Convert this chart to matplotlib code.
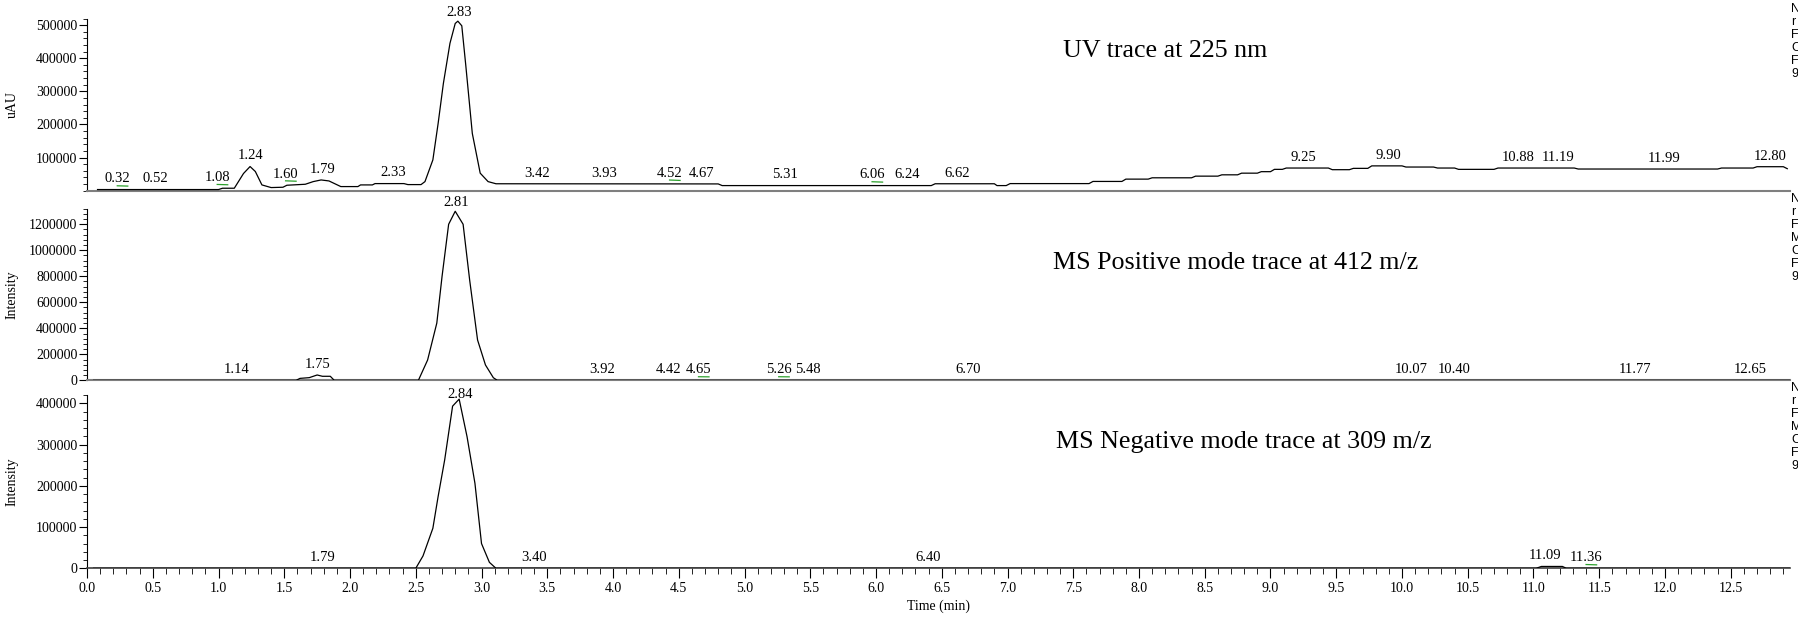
import numpy as np
import matplotlib
matplotlib.use('Agg')
import matplotlib.pyplot as plt
import matplotlib.ticker as ticker
from matplotlib.transforms import offset_copy

plt.rcParams['font.family'] = 'Liberation Serif'

# UV trace at 225 nm (time in min, intensity in uAU)
uv_t = [0.08, 1.00, 1.03, 1.12, 1.19, 1.24, 1.28, 1.33, 1.40, 1.49, 1.52, 1.66,
        1.72, 1.78, 1.84, 1.93, 2.06, 2.08, 2.17, 2.19, 2.41, 2.44, 2.54, 2.57,
        2.63, 2.67, 2.71, 2.76, 2.80, 2.82, 2.85, 2.88, 2.93, 2.99, 3.05, 3.11,
        4.80, 4.83, 6.42, 6.45, 6.90, 6.92, 6.99, 7.02, 7.62, 7.65, 7.87, 7.90,
        8.07, 8.10, 8.40, 8.43, 8.60, 8.63, 8.75, 8.78, 8.90, 8.93, 9.00, 9.03,
        9.09, 9.12, 9.44, 9.47, 9.60, 9.63, 9.74, 9.77, 10.00, 10.03, 10.24, 10.27,
        10.40, 10.43, 10.70, 10.73, 11.31, 11.34, 12.40, 12.43, 12.67, 12.70,
        12.90, 12.93]
uv_y = [3500, 3500, 7500, 7500, 52000, 73000, 58000, 17500, 9500, 10500, 16500, 19500,
        27500, 32500, 29500, 12500, 12500, 17500, 17500, 21500, 21500, 18500, 18500, 27500,
        93000, 203000, 324000, 445000, 505000, 512000, 498000, 380000, 173000, 53000, 27500, 21000,
        20500, 15500, 15500, 21000, 21000, 15500, 15500, 21500, 21500, 28000, 28000, 35000,
        35000, 39000, 39000, 44000, 44000, 48000, 48000, 53000, 53000, 57500, 57500, 64500,
        64500, 68500, 68500, 63500, 63500, 67500, 67500, 75000, 75000, 71500, 71500, 68500,
        68500, 64500, 64500, 68500, 68500, 65500, 65500, 68500, 68500, 72500,
        72500, 66500]

# MS positive mode trace at 412 m/z
pos_t = [0.05, 1.59, 1.62, 1.69, 1.75, 1.79, 1.85, 1.88, 2.52, 2.59, 2.66, 2.70,
         2.75, 2.80, 2.86, 2.91, 2.97, 3.03, 3.09, 3.12, 12.95]
pos_y = [0, 0, 15000, 20500, 41000, 31000, 31000, 0, 0, 156000, 440000, 800000,
         1200000, 1300000, 1200000, 770000, 310000, 118000, 20000, 0, 0]

# MS negative mode trace at 309 m/z
neg_t = [0.05, 2.50, 2.555, 2.63, 2.67, 2.72, 2.78, 2.83, 2.89, 2.95, 3.00, 3.06,
         3.11, 11.02, 11.06, 11.22, 11.25, 12.95]
neg_y = [0, 0, 30000, 97000, 174000, 263000, 393000, 410000, 319000, 206000, 60000, 14500,
         0, 0, 4500, 4500, 0, 0]

# peak labels (retention times)
uv_peaks = [0.32, 0.52, 1.08, 1.24, 1.60, 1.79, 2.33, 2.83, 3.42, 3.93, 4.52, 4.67,
            5.31, 6.06, 6.24, 6.62, 9.25, 9.90, 10.88, 11.19, 11.99, 12.80]
uv_flag = [0.32, 1.08, 1.60, 4.52, 6.06]
pos_peaks = [1.14, 1.75, 2.81, 3.92, 4.42, 4.65, 5.26, 5.48, 6.70, 10.07, 10.40,
             11.77, 12.65]
pos_flag = [4.65, 5.26]
neg_peaks = [1.79, 2.84, 3.40, 6.40, 11.09, 11.36]
neg_flag = [11.36]

titles = ['UV trace at 225 nm', 'MS Positive mode trace at 412 m/z',
          'MS Negative mode trace at 309 m/z']
ylabels = ['uAU', 'Intensity', 'Intensity']
headers = [['N', 'r', 'F', 'C', 'F', '9'],
           ['N', 'r', 'F', 'M', 'C', 'F', '9'],
           ['N', 'r', 'F', 'M', 'C', 'F', '9']]


def main():
    fig = plt.figure(figsize=(17.98, 6.17), dpi=100)

    left, width = 0.0484, 0.9471
    boxes = [(0.6909, 0.2791), (0.3836, 0.2782), (0.0789, 0.2809)]
    ylims = [520000, 1320000, 420000]
    majors = [100000, 200000, 100000]
    minors = [20000, 40000, 20000]
    traces = [(uv_t, uv_y), (pos_t, pos_y), (neg_t, neg_y)]
    peaks = [uv_peaks, pos_peaks, neg_peaks]
    flags = [uv_flag, pos_flag, neg_flag]
    shifts = [-0.09, 0.0, 0.04]
    title_pos = [(0.648, 0.918), (0.687, 0.573), (0.692, 0.284)]
    header_top = [3, 193, 382]

    for i in range(3):
        bottom, height = boxes[i]
        ax = fig.add_axes([left, bottom, width, height])
        t, y = traces[i]
        ax.plot(t, y, color='black', linewidth=0.9, zorder=3)

        ax.set_xlim(0, 12.95)
        ax.set_ylim(0, ylims[i])

        for side in ['top', 'right']:
            ax.spines[side].set_visible(False)
        ax.spines['left'].set_linewidth(0.8)

        if i == 0:
            ax.yaxis.set_major_locator(ticker.FixedLocator(
                np.arange(majors[i], ylims[i], majors[i])))
        else:
            ax.yaxis.set_major_locator(ticker.MultipleLocator(majors[i]))
        ax.yaxis.set_minor_locator(ticker.MultipleLocator(minors[i]))
        ax.yaxis.set_major_formatter(ticker.FormatStrFormatter('%d'))
        ax.tick_params(axis='y', which='major', direction='out', length=6,
                       width=0.8, labelsize=10, pad=1)
        ax.tick_params(axis='y', which='minor', direction='out', length=3,
                       width=0.6)

        if i < 2:
            ax.spines['bottom'].set_color('#7f7f7f')
            ax.spines['bottom'].set_linewidth(1.5)
            ax.tick_params(axis='x', which='both', bottom=False, labelbottom=False)
        else:
            ax.spines['bottom'].set_color('#404040')
            ax.spines['bottom'].set_linewidth(1.2)
            ax.xaxis.set_major_locator(ticker.MultipleLocator(0.5))
            ax.xaxis.set_minor_locator(ticker.MultipleLocator(0.1))
            ax.xaxis.set_major_formatter(ticker.FormatStrFormatter('%.1f'))
            ax.tick_params(axis='x', which='major', direction='out', length=7,
                           width=0.8, labelsize=10, pad=3)
            ax.tick_params(axis='x', which='minor', direction='out', length=4,
                           width=0.6)
            ax.set_xlabel('Time (min)', fontsize=10, labelpad=3)

        ax.set_ylabel(ylabels[i], fontsize=10)
        ax.yaxis.set_label_coords(-0.04, 0.5)

        # peak labels just above the trace
        text_transform = offset_copy(ax.transData, fig=fig, x=0, y=3, units='points')
        mark_transform = offset_copy(ax.transData, fig=fig, x=0, y=2.5, units='points')
        for p in peaks[i]:
            level = np.interp(p, t, y)
            px = p + shifts[i] if p in flags[i] else p
            ax.text(px, level, '%.2f' % p, fontsize=10.5, ha='center', va='bottom',
                    transform=text_transform, clip_on=False)
            if p in flags[i]:
                ax.plot([px, px + 0.08], [level * 1.02 + 800, level], color='#2ca02c',
                        linewidth=0.9, transform=mark_transform, clip_on=False)

        fig.text(title_pos[i][0], title_pos[i][1], titles[i], fontsize=18.7,
                 ha='center', va='center')

        # instrument header column, cut off at the right edge
        for k, h in enumerate(headers[i]):
            fig.text(1791 / 1798, 1 - (header_top[i] + k * 13) / 617, h,
                     fontsize=9, family='Liberation Sans', ha='left', va='top')

    plt.savefig('out.png', dpi=100)


if __name__ == '__main__':
    main()
